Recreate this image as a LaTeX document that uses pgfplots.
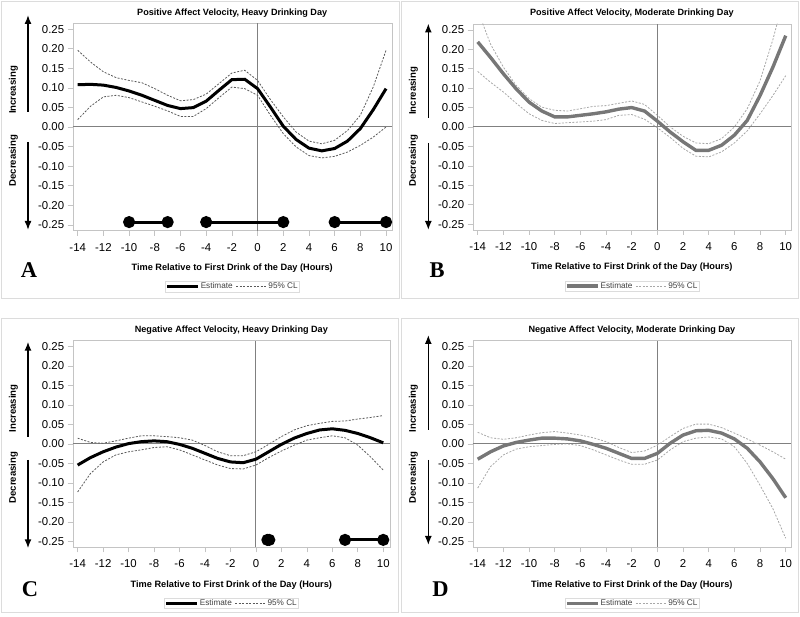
\documentclass[border=0pt]{standalone}
\usepackage{fontspec}
\setmainfont{Liberation Sans}
\newfontfamily\letterfont{Liberation Serif}
\usepackage{pgfplots}
\pgfplotsset{compat=1.18}
\usetikzlibrary{arrows.meta}

\definecolor{framegray}{HTML}{C4C4C4}
\definecolor{zerogray}{HTML}{808080}
\definecolor{boxgray}{HTML}{DCDCDC}
\definecolor{estgray}{HTML}{777777}
\definecolor{clgray}{HTML}{5A5A5A}
\definecolor{cllight}{HTML}{A8A8A8}

\pgfplotsset{
  velo/.style={
    scale only axis,
    xmin=-14.39, ymin=-0.265, ymax=0.265,
    xtick={-14,-12,-10,-8,-6,-4,-2,0,2,4,6,8,10},
    ytick={-0.25,-0.20,-0.15,-0.10,-0.05,0,0.05,0.10,0.15,0.20,0.25},
    yticklabel style={/pgf/number format/.cd, fixed, fixed zerofill, precision=2},
    xticklabel style={yshift=-4pt},
    /pgf/number format/assume math mode=true,
    tick label style={font=\fontsize{11.4}{12}\selectfont, black},
    axis line style={framegray},
    tick style={framegray, line width=0.6pt},
    major tick length=5pt, tick align=outside,
    xtick pos=lower, ytick pos=left,
    extra x ticks={0}, extra x tick labels={},
    extra y ticks={0}, extra y tick labels={},
    extra tick style={grid=major, major grid style={zerogray, line width=1pt}, major tick length=0pt},
    title style={at={(0.5,1)}, anchor=center, yshift=4.5pt, font=\bfseries\fontsize{9.1}{10}\selectfont},
    xlabel={Time Relative to First Drink of the Day (Hours)},
    xlabel style={at={(axis description cs:0.5,0)}, anchor=center, yshift=-37.5pt, font=\bfseries\fontsize{9.2}{10}\selectfont},
    legend style={at={(axis description cs:0.5,0)}, anchor=center, yshift=-56pt,
      draw=boxgray, font=\fontsize{8.2}{9}\selectfont, text=black!75,
      inner sep=0.5pt, nodes={inner sep=1pt},
      /tikz/every even column/.append style={column sep=2pt}},
    legend columns=2,
    legend image code/.code={\draw[#1] (0pt,0pt) -- (31pt,0pt);},
  },
  est/.style={line width=3pt},
  estm/.style={line width=3.4pt},
  cl/.style={line width=0.8pt, dash pattern=on 2pt off 1.5pt},
  sig/.style={black, line width=3pt, mark=*, mark size=4.5pt, forget plot},
}

\begin{document}
\begin{tikzpicture}
\begin{scope}[x=1pt, y=1pt]
\path[use as bounding box] (0,0) rectangle (800,617);
% panel borders
\draw[boxgray, line width=0.8pt] (1.5,615.5) rectangle (399.5,318.7);
\draw[boxgray, line width=0.8pt] (401,615.5) rectangle (798.5,318.7);
\draw[boxgray, line width=0.8pt] (1.5,299) rectangle (398,5);
\draw[boxgray, line width=0.8pt] (401,299) rectangle (798.5,5);
\end{scope}

% ---------- A ----------
\begin{axis}[velo, at={(72.7pt,386.3pt)}, anchor=south west, width=319pt, height=207.4pt, xmax=10.44,
  title={Positive Affect Velocity, Heavy Drinking Day}]
\addplot[est, black] coordinates {(-14,0.108) (-13,0.109) (-12,0.107) (-11,0.101) (-10,0.092) (-9,0.081) (-8,0.068) (-7,0.055) (-6,0.047) (-5,0.0495) (-4,0.066) (-3,0.094) (-2,0.121) (-1,0.122) (0,0.098) (1,0.051) (2,0.002) (3,-0.032) (4,-0.054) (5,-0.061) (6,-0.055) (7,-0.036) (8,-0.004) (9,0.044) (10,0.098)};
\addlegendentry{Estimate}
\addplot[cl, clgray] coordinates {(-14,0.196) (-13,0.166) (-12,0.141) (-11,0.126) (-10,0.119) (-9,0.113) (-8,0.098) (-7,0.081) (-6,0.067) (-5,0.070) (-4,0.084) (-3,0.111) (-2,0.138) (-1,0.145) (0,0.119) (1,0.070) (2,0.026) (3,-0.013) (4,-0.036) (5,-0.043) (6,-0.034) (7,-0.009) (8,0.030) (9,0.102) (10,0.196)};
\addlegendentry{95\% CL}
\addplot[cl, clgray, forget plot] coordinates {(-14,0.019) (-13,0.053) (-12,0.077) (-11,0.081) (-10,0.075) (-9,0.064) (-8,0.053) (-7,0.041) (-6,0.027) (-5,0.027) (-4,0.047) (-3,0.075) (-2,0.102) (-1,0.098) (0,0.081) (1,0.030) (2,-0.017) (3,-0.051) (4,-0.073) (5,-0.079) (6,-0.075) (7,-0.064) (8,-0.047) (9,-0.026) (10,0.000)};
\addplot[sig] coordinates {(-10,-0.243) (-7,-0.243)};
\addplot[sig] coordinates {(-4,-0.243) (2,-0.243)};
\addplot[sig] coordinates {(6,-0.243) (10,-0.243)};
\end{axis}

% ---------- B ----------
\begin{axis}[velo, at={(472.7pt,387pt)}, anchor=south west, width=318.3pt, height=206pt, xmax=10.41,
  title={Positive Affect Velocity, Moderate Drinking Day}]
\addplot[estm, estgray] coordinates {(-14,0.219) (-13,0.179) (-12,0.137) (-11,0.098) (-10,0.064) (-9,0.041) (-8,0.026) (-7,0.026) (-6,0.030) (-5,0.034) (-4,0.039) (-3,0.046) (-2,0.050) (-1,0.041) (0,0.015) (1,-0.013) (2,-0.038) (3,-0.060) (4,-0.060) (5,-0.047) (6,-0.021) (7,0.017) (8,0.081) (9,0.154) (10,0.235)};
\addlegendentry{Estimate}
\addplot[cl, cllight] coordinates {(-14,0.300) (-13,0.213) (-12,0.154) (-11,0.107) (-10,0.073) (-9,0.051) (-8,0.043) (-7,0.041) (-6,0.047) (-5,0.053) (-4,0.055) (-3,0.061) (-2,0.067) (-1,0.058) (0,0.030) (1,0.000) (2,-0.024) (3,-0.041) (4,-0.043) (5,-0.030) (6,0.000) (7,0.047) (8,0.119) (9,0.225) (10,0.350)};
\addlegendentry{95\% CL}
\addplot[cl, cllight, forget plot] coordinates {(-14,0.143) (-13,0.115) (-12,0.090) (-11,0.061) (-10,0.034) (-9,0.017) (-8,0.009) (-7,0.011) (-6,0.013) (-5,0.015) (-4,0.019) (-3,0.030) (-2,0.032) (-1,0.020) (0,-0.002) (1,-0.027) (2,-0.055) (3,-0.075) (4,-0.077) (5,-0.064) (6,-0.041) (7,-0.010) (8,0.034) (9,0.081) (10,0.132)};
\end{axis}

% ---------- C ----------
\begin{axis}[velo, at={(72.7pt,69.7pt)}, anchor=south west, width=317.3pt, height=206.6pt, xmax=10.53,
  title={Negative Affect Velocity, Heavy Drinking Day}]
\addplot[est, black] coordinates {(-14,-0.054) (-13,-0.035) (-12,-0.020) (-11,-0.008) (-10,0.001) (-9,0.006) (-8,0.008) (-7,0.006) (-6,-0.001) (-5,-0.011) (-4,-0.024) (-3,-0.037) (-2,-0.046) (-1,-0.048) (0,-0.039) (1,-0.020) (2,-0.001) (3,0.015) (4,0.027) (5,0.036) (6,0.039) (7,0.035) (8,0.027) (9,0.016) (10,0.003)};
\addlegendentry{Estimate}
\addplot[cl, clgray] coordinates {(-14,0.015) (-13,0.004) (-12,0.002) (-11,0.008) (-10,0.015) (-9,0.021) (-8,0.021) (-7,0.019) (-6,0.016) (-5,0.010) (-4,-0.004) (-3,-0.020) (-2,-0.030) (-1,-0.030) (0,-0.020) (1,-0.001) (2,0.019) (3,0.036) (4,0.047) (5,0.053) (6,0.058) (7,0.059) (8,0.064) (9,0.068) (10,0.073)};
\addlegendentry{95\% CL}
\addplot[cl, clgray, forget plot] coordinates {(-14,-0.123) (-13,-0.076) (-12,-0.046) (-11,-0.028) (-10,-0.020) (-9,-0.015) (-8,-0.009) (-7,-0.007) (-6,-0.015) (-5,-0.028) (-4,-0.041) (-3,-0.054) (-2,-0.063) (-1,-0.064) (0,-0.054) (1,-0.035) (2,-0.018) (3,-0.003) (4,0.010) (5,0.016) (6,0.021) (7,0.016) (8,-0.003) (9,-0.033) (10,-0.067)};
\addplot[sig] coordinates {(0.9,-0.246) (1.05,-0.246)};
\addplot[sig] coordinates {(7,-0.246) (10,-0.246)};
\end{axis}

% ---------- D ----------
\begin{axis}[velo, at={(472.7pt,69.7pt)}, anchor=south west, width=318.3pt, height=206.6pt, xmax=10.41,
  title={Negative Affect Velocity, Moderate Drinking Day}]
\addplot[estm, estgray] coordinates {(-14,-0.039) (-13,-0.020) (-12,-0.005) (-11,0.004) (-10,0.010) (-9,0.015) (-8,0.015) (-7,0.013) (-6,0.008) (-5,-0.001) (-4,-0.011) (-3,-0.024) (-2,-0.037) (-1,-0.037) (0,-0.024) (1,0.002) (2,0.023) (3,0.034) (4,0.035) (5,0.028) (6,0.013) (7,-0.011) (8,-0.046) (9,-0.089) (10,-0.138)};
\addlegendentry{Estimate}
\addplot[cl, cllight] coordinates {(-14,0.030) (-13,0.016) (-12,0.012) (-11,0.016) (-10,0.023) (-9,0.029) (-8,0.032) (-7,0.028) (-6,0.023) (-5,0.016) (-4,0.006) (-3,-0.009) (-2,-0.022) (-1,-0.018) (0,-0.003) (1,0.019) (2,0.040) (3,0.051) (4,0.051) (5,0.042) (6,0.028) (7,0.013) (8,-0.003) (9,-0.020) (10,-0.039)};
\addlegendentry{95\% CL}
\addplot[cl, cllight, forget plot] coordinates {(-14,-0.113) (-13,-0.058) (-12,-0.028) (-11,-0.013) (-10,-0.007) (-9,-0.004) (-8,-0.001) (-7,0.000) (-6,-0.004) (-5,-0.015) (-4,-0.028) (-3,-0.041) (-2,-0.052) (-1,-0.052) (0,-0.041) (1,-0.015) (2,0.006) (3,0.015) (4,0.018) (5,0.013) (6,-0.007) (7,-0.050) (8,-0.106) (9,-0.166) (10,-0.242)};
\end{axis}

\begin{scope}[x=1pt, y=1pt]
% direction arrows and labels
\tikzset{dirarrow/.style={line width=1.5pt, -{Latex[length=9pt,width=7pt]}},
         dirlabel/.style={rotate=90, font=\bfseries\fontsize{9.6}{10}\selectfont}}
\draw[dirarrow] (28,505) -- (28,602);
\draw[dirarrow] (28,475) -- (28,387);
\node[dirlabel] at (13.3,527) {Increasing};
\node[dirlabel] at (13.3,456.5) {Decreasing};

\draw[dirarrow] (428.3,499) -- (428.3,593.5);
\draw[dirarrow] (428.3,474) -- (428.3,387);
\node[dirlabel] at (413.3,526.2) {Increasing};
\node[dirlabel] at (413.3,456.2) {Decreasing};

\draw[dirarrow] (28,180.3) -- (28,275.3);
\draw[dirarrow] (28,157) -- (28,68.7);
\node[dirlabel] at (13.3,208.7) {Increasing};
\node[dirlabel] at (13.3,139.5) {Decreasing};

\draw[dirarrow] (428.3,187) -- (428.3,282);
\draw[dirarrow] (428.3,157) -- (428.3,72);
\node[dirlabel] at (413.3,208.7) {Increasing};
\node[dirlabel] at (413.3,139.5) {Decreasing};

% panel letters
\tikzset{panelletter/.style={anchor=base, font=\letterfont\bfseries\fontsize{22.5}{24}\selectfont}}
\node[panelletter] at (29,339) {A};
\node[panelletter] at (437,339) {B};
\node[panelletter] at (30,20.3) {C};
\node[panelletter] at (440.5,20.3) {D};
\end{scope}
\end{tikzpicture}
\end{document}
